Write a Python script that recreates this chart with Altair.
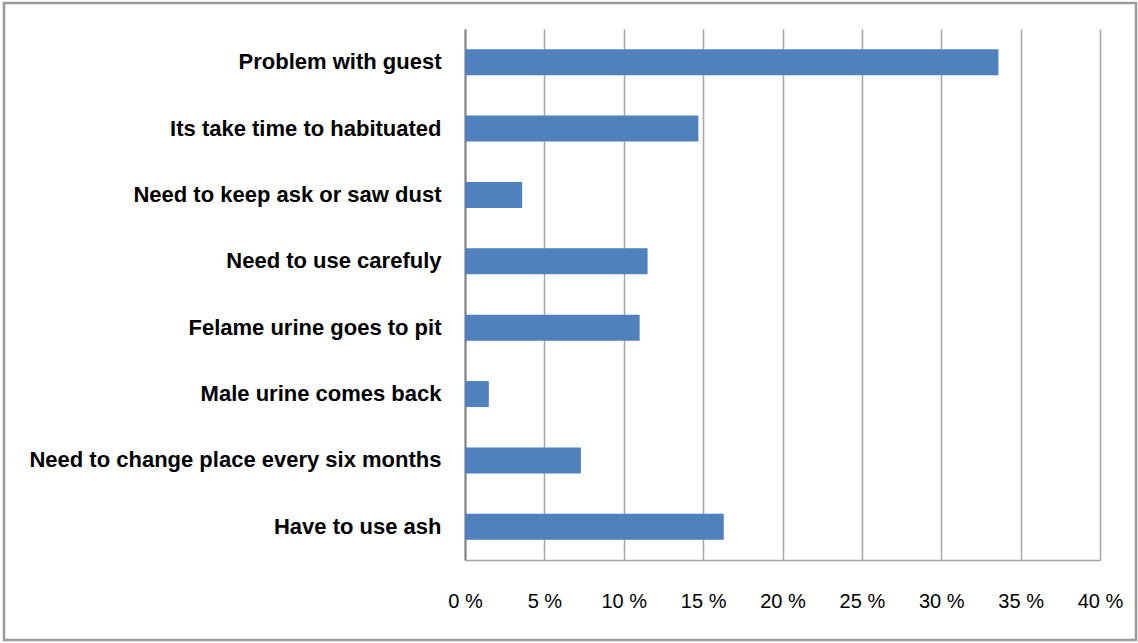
import altair as alt
import pandas as pd

categories = [
    "Problem with guest",
    "Its take time to habituated",
    "Need to keep ask or saw dust",
    "Need to use carefuly",
    "Felame urine goes to pit",
    "Male urine comes back",
    "Need to change place every six months",
    "Have to use ash",
]
values = [33.6, 14.7, 3.6, 11.5, 11.0, 1.5, 7.3, 16.3]
x_ticks = [0, 5, 10, 15, 20, 25, 30, 35, 40]

df = pd.DataFrame({"category": categories, "value": values})

bars = alt.Chart(df).mark_bar(color="#4f81bd", size=26).encode(
    x=alt.X(
        "value:Q",
        scale=alt.Scale(domain=[0, 40], nice=False),
        axis=alt.Axis(
            values=x_ticks,
            title=None,
            labelExpr="datum.value + ' %'",
            labelFont="Liberation Sans, Arial, sans-serif",
            labelFontSize=20,
            labelColor="#000000",
            labelPadding=31,
            labelFlush=False,
            labelOverlap=False,
            tickSize=0,
            grid=True,
            gridColor="#a6a6a6",
            gridWidth=1.5,
            domainColor="#a6a6a6",
            domainWidth=1.5,
        ),
    ),
    y=alt.Y(
        "category:N",
        sort=categories,
        scale=alt.Scale(paddingInner=0.6, paddingOuter=0.3),
        axis=alt.Axis(
            title=None,
            labelFont="Liberation Sans, Arial, sans-serif",
            labelFontWeight="bold",
            labelFontSize=22,
            labelColor="#000000",
            labelPadding=24,
            labelLimit=460,
            tickSize=0,
            domainColor="#808080",
            domainWidth=2,
            grid=False,
        ),
    ),
)

frame = alt.Chart(pd.DataFrame({"a": [0]})).mark_rect(
    fillOpacity=0, stroke="#9a9a9a", strokeWidth=2.5
).encode(
    x=alt.value(-461),
    x2=alt.value(671),
    y=alt.value(-26),
    y2=alt.value(611),
)

chart = alt.layer(bars, frame).properties(
    width=635,
    height=531,
    autosize=alt.AutoSizeParams(type="none"),
    padding={"left": 465, "top": 29, "right": 38, "bottom": 83},
    background="#ffffff",
).configure_view(stroke=None)

chart.save("out.html", embed_options={"renderer": "svg", "actions": False})
